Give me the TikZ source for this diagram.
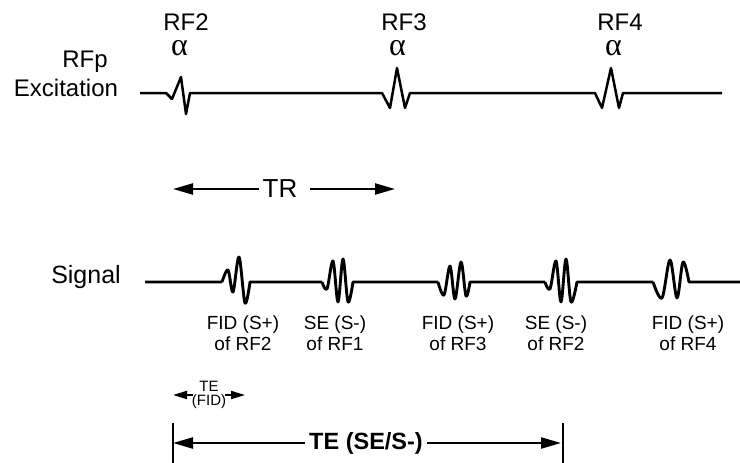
\documentclass[tikz,border=0pt]{standalone}
\usepackage{fontspec}
\setmainfont{Liberation Sans}
\newfontfamily\grserif{Liberation Serif}
\usetikzlibrary{arrows.meta}
\newcommand{\alphamark}{\hspace*{-13pt}{\grserif\fontsize{32}{34}\selectfont α}}
\begin{document}
\begin{tikzpicture}[x=1pt,y=-1pt,
  wave/.style={line width=2.5pt,line join=round},
  sig/.style={line width=2.9pt,line join=round},
  biglbl/.style={font=\fontsize{24}{27}\selectfont,inner sep=0pt},
  rflbl/.style={font=\fontsize{24}{25.5}\selectfont,inner sep=0pt,align=center,anchor=north},
  lab/.style={font=\fontsize{19}{21.5}\selectfont,align=center,inner sep=0pt},
  dimarrow/.style={line width=2.3pt,-{Triangle[length=20pt,width=11pt]}},
  smallarrow/.style={line width=2pt,-{Triangle[length=14pt,width=8pt]}},
  bar/.style={line width=2.2pt}
]
\useasboundingbox (0,0) rectangle (740,463);

% --- RF excitation row
\node[biglbl] (rfp) at (85,62) {RFp};
\node[biglbl] (exc) at (66,88) {Excitation};
\node[rflbl] (rf2) at (186,13.5) {RF2\\\alphamark};
\node[rflbl] (rf3) at (404,13.5) {RF3\\\alphamark};
\node[rflbl] (rf4) at (620,13.5) {RF4\\\alphamark};

\draw[wave] (140,93) -- (166,93) -- (172,99) -- (181,77) -- (186,114) -- (190,93)
  -- (382,93) -- (390,108) -- (397,68) -- (405,108) -- (410,93)
  -- (595,93) -- (602,108) -- (611,68) -- (619,108) -- (623,93) -- (722,93);

% --- TR
\node[biglbl,font=\fontsize{26}{28}\selectfont] (tr) at (280,189) {TR};
\coordinate (trL) at (173,189);
\coordinate (trR) at (395,189);
\draw[dimarrow] ([xshift=-3pt]tr.west) -- (trL);
\draw[dimarrow] ([xshift=12pt]tr.east) -- (trR);

% --- Signal row
\node[biglbl,font=\fontsize{25}{27}\selectfont] (signal) at (86,277) {Signal};
\draw[sig] (145,282) -- (222,282)
  plot[smooth,tension=0.55] coordinates {(222,282) (228,270) (233,292) (239,257) (245,303) (250,282)}
  -- (322,282)
  plot[smooth,tension=0.55] coordinates {(322,282) (327,289) (333,261) (338,302) (343,259) (348,302) (353,282)}
  -- (438,282)
  plot[smooth,tension=0.55] coordinates {(438,282) (444,295) (450,266) (455,299) (461,262) (466,296) (470,282)}
  -- (545,282)
  plot[smooth,tension=0.55] coordinates {(545,282) (550,289) (556,261) (561,302) (566,259) (571,302) (577,282)}
  -- (653,282)
  plot[smooth,tension=0.55] coordinates {(653,282) (662,298) (670,260) (677,298) (683,262) (689,282)}
  -- (740,282);

\node[lab] (l1) at (243,333) {FID (S+)\\of RF2};
\node[lab] (l2) at (335,333) {SE (S-)\\of RF1};
\node[lab] (l3) at (458,333) {FID (S+)\\of RF3};
\node[lab] (l4) at (556,333) {SE (S-)\\of RF2};
\node[lab] (l5) at (688,333) {FID (S+)\\of RF4};

% --- TE (FID)
\node[font=\fontsize{15}{13.5}\selectfont,align=center,inner sep=0pt] (tefid) at (209,395) {TE\\(FID)};
\coordinate (tfL) at (173,395);
\coordinate (tfR) at (245,395);
\draw[smallarrow] ([xshift=1pt]tefid.west) -- (tfL);
\draw[smallarrow] ([xshift=-1pt]tefid.east) -- (tfR);

% --- TE (SE/S-)
\node[biglbl,font=\bfseries\fontsize{23.5}{26}\selectfont] (tese) at (366,443) {TE (SE/S-)};
\coordinate (bLt) at (173,423);
\coordinate (bLb) at (173,463);
\coordinate (bRt) at (563,423);
\coordinate (bRb) at (563,463);
\draw[bar] (bLt) -- (bLb);
\draw[bar] (bRt) -- (bRb);
\draw[dimarrow] ([xshift=-4pt]tese.west) -- (bLt |- tese.west);
\draw[dimarrow] ([xshift=4pt]tese.east) -- ([xshift=-2pt]bRt |- tese.east);
\end{tikzpicture}
\end{document}
